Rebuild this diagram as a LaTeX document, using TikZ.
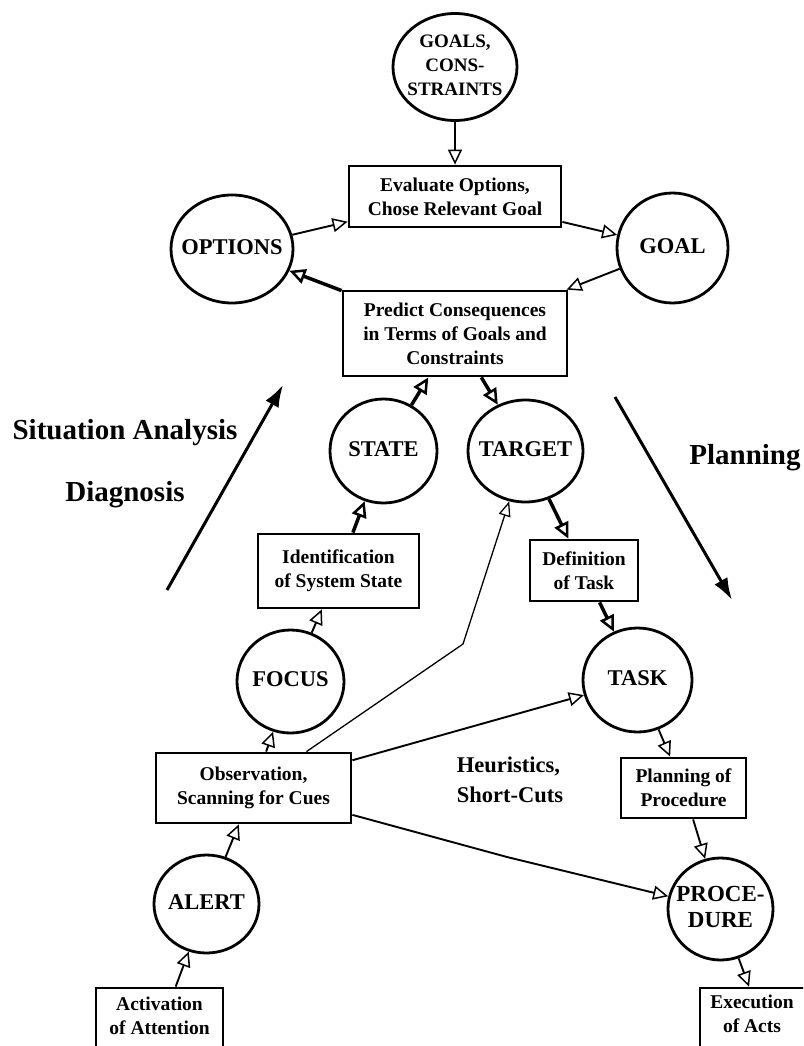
\documentclass[tikz,border=0pt]{standalone}
\usepackage{fontspec}
\setmainfont{Liberation Serif}
\usetikzlibrary{shapes.geometric, arrows.meta}

% centred multi-line label of zero width, so it never widens an ellipse
\newcommand{\ctrlabel}[1]{\makebox[0pt]{\begin{tabular}{@{}c@{}}#1\end{tabular}}}

\tikzset{
  box/.style={draw, rectangle, line width=2.8pt, inner sep=0pt, align=center,
    font=\bfseries\fontsize{19.5}{24}\selectfont},
  oval/.style={draw, ellipse, line width=2.8pt, inner sep=0pt,
    font=\bfseries\fontsize{22.5}{26}\selectfont},
  boxtext/.style={align=center, inner sep=0pt, font=\bfseries\fontsize{19.5}{24}\selectfont},
  phase/.style={inner sep=0pt, font=\bfseries\fontsize{29}{34}\selectfont},
  thinarrow/.style={line width=1.9pt,
    -{Triangle[open, length=15pt, width=14pt, line width=1.5pt]}},
  hairarrow/.style={line width=1.3pt,
    -{Triangle[open, length=15pt, width=12pt, line width=1.3pt]}},
  thickarrow/.style={line width=3.5pt,
    -{Triangle[open, length=16pt, width=15pt, line width=2.5pt]}},
  bigarrow/.style={line width=3pt, -{Latex[length=22pt, width=15pt]}}
}

\begin{document}
\begin{tikzpicture}[x=1pt, y=-1pt]
\useasboundingbox (0,0) rectangle (803,1046);
\fill[white] (0,0) rectangle (803,1046);
\clip (0,0) rectangle (803,1046);

% --- goal evaluation loop ---
\node[oval, minimum width=124pt, minimum height=107pt,
      font=\bfseries\fontsize{19}{24}\selectfont] (goals) at (455,67)
      {\ctrlabel{GOALS,\\CONS-\\STRAINTS}};
\node[box, minimum width=212pt, minimum height=61pt] (eval) at (455,196.5)
      {Evaluate Options,\\Chose Relevant Goal};
\node[oval, minimum width=122pt, minimum height=108pt] (options) at (232,249) {\ctrlabel{OPTIONS}};
\node[oval, minimum width=111pt, minimum height=110pt] (goal) at (672.5,248) {\ctrlabel{GOAL}};
\node[box, minimum width=224pt, minimum height=85pt] (predict) at (455,333.5)
      {Predict Consequences\\in Terms of Goals and\\Constraints};

% --- situation analysis side ---
\node[oval, minimum width=107pt, minimum height=104pt] (state) at (383.5,451) {\ctrlabel{STATE}};
\node[box, minimum width=161pt, minimum height=74pt] (ident) at (338.5,571)
      {Identification\\of System State};
\node[oval, minimum width=107pt, minimum height=103pt] (focus) at (290.5,681.5) {\ctrlabel{FOCUS}};
\node[box, minimum width=195pt, minimum height=70pt] (obs) at (253.5,788)
      {Observation,\\Scanning for Cues};
\node[oval, minimum width=105pt, minimum height=98pt] (alert) at (206.5,904) {\ctrlabel{ALERT}};
\node[box, minimum width=127pt, minimum height=84pt] (act) at (159.5,1030) {};
\node[boxtext] (acttext) at (159.5,1016) {Activation\\of Attention};

% --- planning side ---
\node[oval, minimum width=115pt, minimum height=102pt] (target) at (525.5,451) {\ctrlabel{TARGET}};
\node[box, minimum width=108pt, minimum height=61pt] (defn) at (584,570.5)
      {Definition\\of Task};
\node[oval, minimum width=109pt, minimum height=104pt] (task) at (637.5,680) {\ctrlabel{TASK}};
\node[box, minimum width=125pt, minimum height=60pt] (plan) at (683.5,788)
      {Planning of\\Procedure};
\node[oval, minimum width=105pt, minimum height=102pt,
      font=\bfseries\fontsize{23}{26}\selectfont] (proc) at (720.5,909)
      {\ctrlabel{PROCE-\\DURE}};
\node[box, minimum width=130pt, minimum height=84pt] (exec) at (765,1030) {};
\node[boxtext] (exectext) at (752,1014) {Execution\\of Acts};

% --- free labels ---
\node[phase] (sa) at (125,433) {Situation Analysis};
\node[phase] (diag) at (125,495) {Diagnosis};
\node[phase] (planning) at (745,458) {Planning};
\node[align=left, inner sep=0pt, font=\bfseries\fontsize{22.5}{30}\selectfont]
      (heur) at (510,780) {Heuristics,\\Short-Cuts};

% --- phase arrows ---
\coordinate (saFrom) at (167,590);
\coordinate (saTo) at (283,385);
\coordinate (plFrom) at (615,397);
\coordinate (plTo) at (732,600);
\draw[bigarrow] (saFrom) -- (saTo);
\draw[bigarrow] (plFrom) -- (plTo);

% --- bends of the short-cut connectors ---
\coordinate (bendT) at (463,644);
\coordinate (bendP) at (507,857);

% --- connectors ---
\draw[thinarrow] (goals) -- (eval);
\draw[thinarrow] (options) -- (eval);
\draw[thinarrow] (eval) -- (goal);
\draw[thinarrow] (goal) -- (predict);
\draw[thickarrow] (predict) -- (options);

\draw[thickarrow] (state) -- (predict);
\draw[thickarrow] (predict) -- (target);
\draw[thickarrow] (ident) -- (state);
\draw[thinarrow] (focus) -- (ident);
\draw[thinarrow] (obs) -- (focus);
\draw[thinarrow] (alert) -- (obs);
\draw[thinarrow] (act) -- (alert);

\draw[thickarrow] (target) -- (defn);
\draw[thickarrow] (defn) -- (task);
\draw[thinarrow] (task) -- (plan);
\draw[thinarrow] (plan) -- (proc);
\draw[thinarrow] (proc) -- (exec);

\draw[hairarrow] (obs) -- (bendT) -- (target);
\draw[thinarrow] (obs) -- (task);
\draw[thinarrow] (obs) -- (bendP) -- (proc);
\end{tikzpicture}
\end{document}
